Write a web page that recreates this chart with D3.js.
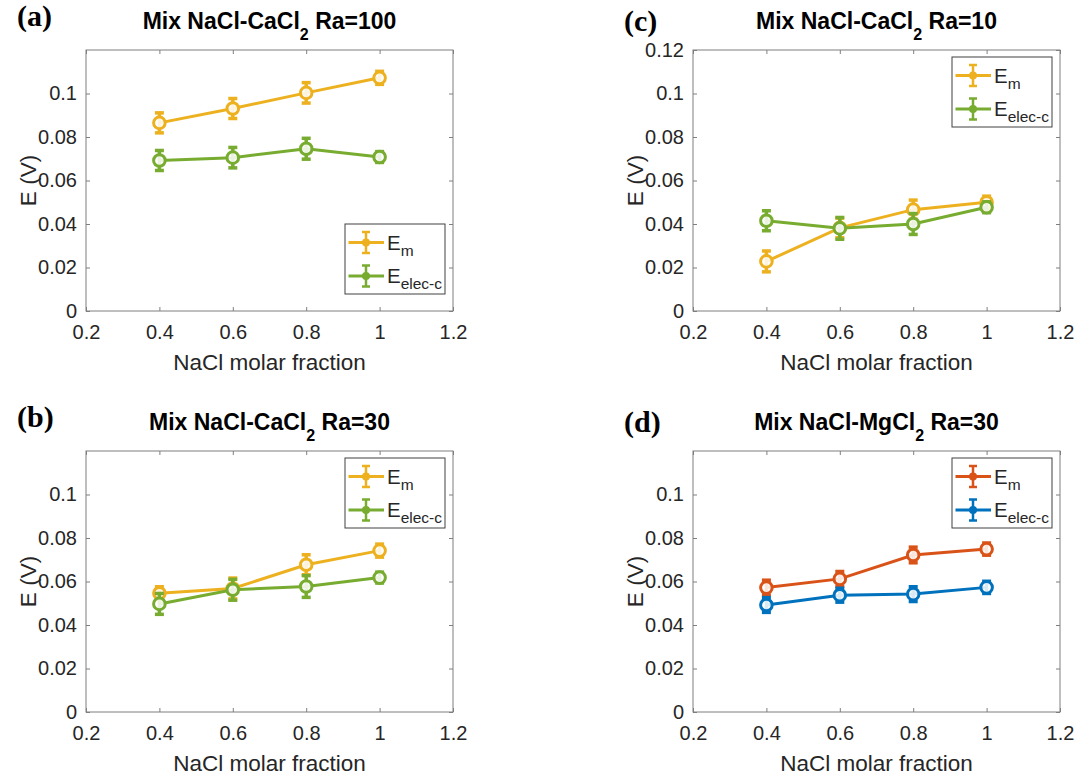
<!DOCTYPE html>
<html>
<head>
<meta charset="utf-8">
<script src="https://cdn.jsdelivr.net/npm/d3@7"></script>
<style>
  body { margin: 0; background: #fff; }
  svg { display: block; }
  text { font-family: "Liberation Sans", Arial, Helvetica, sans-serif; fill: #262626; }
  text.tag { font-family: "Liberation Serif", "Times New Roman", serif; fill: #000; }
</style>
</head>
<body>
<svg id="fig" width="1081" height="780"></svg>
<script>
// NaCl molar fraction of each measured mixture
const fractions = [0.4, 0.6, 0.8, 1.0];
const xTicks = [0.2, 0.4, 0.6, 0.8, 1.0, 1.2];
const yTicks = [0, 0.02, 0.04, 0.06, 0.08, 0.1];
const yTicksFull = [0, 0.02, 0.04, 0.06, 0.08, 0.1, 0.12];

// (a) NaCl-CaCl2, Ra = 100
const emA = [0.0865, 0.0931, 0.1003, 0.1072];
const emErrA = [0.0046, 0.0046, 0.0047, 0.0030];
const ecA = [0.0692, 0.0705, 0.0746, 0.0708];
const ecErrA = [0.0046, 0.0047, 0.0048, 0.0025];

// (b) NaCl-CaCl2, Ra = 30
const emB = [0.0546, 0.0568, 0.0677, 0.0742];
const emErrB = [0.0030, 0.0048, 0.0046, 0.0030];
const ecB = [0.0497, 0.0562, 0.0577, 0.0618];
const ecErrB = [0.0048, 0.0048, 0.0050, 0.0025];

// (c) NaCl-CaCl2, Ra = 10
const emC = [0.0228, 0.0382, 0.0466, 0.0500];
const emErrC = [0.0048, 0.0045, 0.0044, 0.0028];
const ecC = [0.0415, 0.0380, 0.0400, 0.0477];
const ecErrC = [0.0046, 0.0050, 0.0048, 0.0025];

// (d) NaCl-MgCl2, Ra = 30
const emD = [0.0572, 0.0612, 0.0722, 0.0749];
const emErrD = [0.0034, 0.0034, 0.0036, 0.0028];
const ecD = [0.0492, 0.0537, 0.0542, 0.0573];
const ecErrD = [0.0034, 0.0032, 0.0034, 0.0028];

const colYellow = "#EDB120", colGreen = "#77AC30", colRed = "#D95319", colBlue = "#0072BD";

const panels = [
  { tag: "(a)", salt: "CaCl", ra: "100", left: 86, top: 50, em: emA, emErr: emErrA, ec: ecA, ecErr: ecErrA,
    colors: [colYellow, colGreen], yt: yTicks, legendLow: true },
  { tag: "(b)", salt: "CaCl", ra: "30", left: 86, top: 451, em: emB, emErr: emErrB, ec: ecB, ecErr: ecErrB,
    colors: [colYellow, colGreen], yt: yTicks, legendLow: false },
  { tag: "(c)", salt: "CaCl", ra: "10", left: 693, top: 50, em: emC, emErr: emErrC, ec: ecC, ecErr: ecErrC,
    colors: [colYellow, colGreen], yt: yTicksFull, legendLow: false },
  { tag: "(d)", salt: "MgCl", ra: "30", left: 693, top: 451, em: emD, emErr: emErrD, ec: ecD, ecErr: ecErrD,
    colors: [colRed, colBlue], yt: yTicks, legendLow: false }
];

const W = 367, H = 261;
const axisCol = "#7f7f7f";
const lineW = 3;
const svg = d3.select("#fig");
const fmt = d3.format("~g");

function styleAxis(g) {
  g.select(".domain").remove();
  g.selectAll(".tick line").attr("stroke", axisCol).attr("stroke-width", 1);
  g.selectAll(".tick text").attr("font-size", 20).attr("fill", "#262626")
    .attr("font-family", null);
  g.attr("font-family", null);
}

function drawPanel(p) {
  const g = svg.append("g").attr("transform", `translate(${p.left},${p.top})`);
  const x = d3.scaleLinear().domain([0.2, 1.2]).range([0, W]);
  const y = d3.scaleLinear().domain([0, 0.12]).range([H, 0]);

  // axes with inward ticks on all four sides
  g.append("g").attr("transform", `translate(0,${H})`)
    .call(d3.axisBottom(x).tickValues(xTicks).tickSize(-4).tickPadding(14).tickFormat(fmt))
    .call(styleAxis);
  g.append("g")
    .call(d3.axisTop(x).tickValues(xTicks).tickSize(-4).tickFormat(""))
    .call(styleAxis);
  g.append("g")
    .call(d3.axisLeft(y).tickValues(p.yt).tickSize(-4).tickPadding(9).tickFormat(fmt))
    .call(styleAxis);
  g.append("g").attr("transform", `translate(${W},0)`)
    .call(d3.axisRight(y).tickValues(p.yt).tickSize(-4).tickFormat(""))
    .call(styleAxis);
  g.append("rect").attr("width", W).attr("height", H)
    .attr("fill", "none").attr("stroke", axisCol).attr("stroke-width", 1);

  // series: error bars, connecting line, open circle markers
  const series = [
    { v: p.em, e: p.emErr, c: p.colors[0] },
    { v: p.ec, e: p.ecErr, c: p.colors[1] }
  ];
  series.forEach(s => {
    const pts = fractions.map((f, i) => ({ f, v: s.v[i], e: s.e[i] }));
    const sg = g.append("g");
    const eb = sg.selectAll("g.eb").data(pts).join("g").attr("class", "eb");
    eb.append("line")
      .attr("x1", d => x(d.f)).attr("x2", d => x(d.f))
      .attr("y1", d => y(d.v - d.e)).attr("y2", d => y(d.v + d.e))
      .attr("stroke", s.c).attr("stroke-width", 3.5);
    [-1, 1].forEach(sign => {
      eb.append("line")
        .attr("x1", d => x(d.f) - 4.5).attr("x2", d => x(d.f) + 4.5)
        .attr("y1", d => y(d.v + sign * d.e)).attr("y2", d => y(d.v + sign * d.e))
        .attr("stroke", s.c).attr("stroke-width", 3.5);
    });
    sg.append("path").datum(pts)
      .attr("d", d3.line().x(d => x(d.f)).y(d => y(d.v)))
      .attr("fill", "none").attr("stroke", s.c).attr("stroke-width", lineW);
    sg.selectAll("circle").data(pts).join("circle")
      .attr("cx", d => x(d.f)).attr("cy", d => y(d.v)).attr("r", 5.8)
      .attr("fill", "#fff").attr("fill-opacity", 0.85)
      .attr("stroke", s.c).attr("stroke-width", 3);
  });

  // legend
  const lw = 100, lh = 70;
  const lx = W - 8 - lw;
  const ly = p.legendLow ? H - 17 - lh : 7;
  const lg = g.append("g").attr("transform", `translate(${lx},${ly})`);
  lg.append("rect").attr("width", lw).attr("height", lh)
    .attr("fill", "#fff").attr("stroke", "#404040").attr("stroke-width", 1);
  const entries = [
    { sub: "m", c: p.colors[0], cy: 18.5 },
    { sub: "elec-c", c: p.colors[1], cy: 52 }
  ];
  entries.forEach(en => {
    const mx = 21;
    lg.append("line").attr("x1", 3.5).attr("x2", 39).attr("y1", en.cy).attr("y2", en.cy)
      .attr("stroke", en.c).attr("stroke-width", lineW);
    lg.append("line").attr("x1", mx).attr("x2", mx).attr("y1", en.cy - 10.5).attr("y2", en.cy + 10.5)
      .attr("stroke", en.c).attr("stroke-width", 2.5);
    [-10.5, 10.5].forEach(o => lg.append("line")
      .attr("x1", mx - 4).attr("x2", mx + 4).attr("y1", en.cy + o).attr("y2", en.cy + o)
      .attr("stroke", en.c).attr("stroke-width", 2.5));
    lg.append("circle").attr("cx", mx).attr("cy", en.cy).attr("r", 4).attr("fill", en.c);
    const t = lg.append("text").attr("x", 42).attr("y", en.cy + 7).attr("font-size", 20.5);
    t.append("tspan").text("E");
    t.append("tspan").attr("dy", 6).attr("font-size", 15.5).text(en.sub);
  });

  // title
  const title = g.append("text").attr("x", W / 2).attr("y", -21)
    .attr("text-anchor", "middle").attr("font-size", 23).attr("font-weight", "bold")
    .style("fill", "#000");
  title.append("tspan").text("Mix NaCl-" + p.salt);
  title.append("tspan").attr("dy", 11).attr("font-size", 16).text("2");
  title.append("tspan").attr("dy", -11).text(" Ra=" + p.ra);

  // axis labels
  g.append("text").attr("x", W / 2).attr("y", H + 59).attr("text-anchor", "middle")
    .attr("font-size", 22.5).text("NaCl molar fraction");
  g.append("text").attr("transform", `translate(-50,${H / 2}) rotate(-90)`)
    .attr("text-anchor", "middle").attr("font-size", 22.5).text("E (V)");

  // panel tag
  svg.append("text").attr("class", "tag")
    .attr("x", p.left - 69).attr("y", p.top - (p.left < 300 ? 24 : 19))
    .attr("font-weight", "bold").attr("font-size", 30).text(p.tag);
}

panels.forEach(drawPanel);
</script>
</body>
</html>
